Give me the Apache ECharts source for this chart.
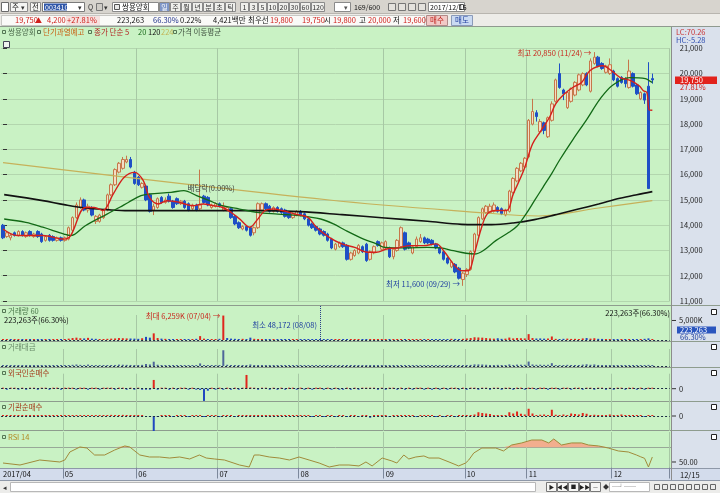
<!DOCTYPE html>
<html>
<head>
<meta charset="utf-8">
<script src="https://cdn.jsdelivr.net/npm/echarts@6/dist/echarts.min.js"></script>
<style>html,body{margin:0;padding:0;background:#fff;}#c{width:720px;height:493px;}</style>
</head>
<body>
<div id="c"></div>
<script>
// ---------------- DATA ----------------
const holidays = ['2017-05-01','2017-05-03','2017-05-05','2017-05-09','2017-06-06','2017-08-15',
  '2017-10-02','2017-10-03','2017-10-04','2017-10-05','2017-10-06','2017-10-09'];
const firstDay = [2017, 3, 7];
const lastDay = [2017, 11, 15];

const opens = [14000,13550,13500,13700,13600,13750,13550,13750,13550,13750,
 13650,13400,13600,13550,13400,13500,13400,13450,13800,14300,
 14700,15000,14600,14700,14150,14150,14300,14600,15200,15600,
 16100,16250,16500,16600,16100,15900,15500,15550,15200,14600,
 14700,15100,14900,15150,14950,15050,14850,14950,14850,14650,
 14800,14650,15150,15100,14700,14750,14850,14600,14600,14650,
 14350,14100,13850,13950,13900,13700,13900,14600,14850,14750,
 14550,14700,14650,14600,14500,14300,14400,14550,14450,14250,
 14050,13950,13850,13750,13650,13450,13050,13150,13300,13200,
 12650,12800,12900,13150,13250,12650,12900,13350,13050,13100,
 13100,12750,13000,13150,13700,13300,12900,13150,13350,13500,
 13450,13400,13250,13100,12950,12700,12350,12450,12300,11850,
 12050,12250,12950,13600,14250,14500,14500,14550,14700,14650,
 14400,14550,15300,15750,16150,16300,16700,18000,18450,17700,
 18050,17500,18150,18900,20000,19350,18650,18900,19150,19350,
 19550,20000,19300,20400,20650,20400,20050,20000,20100,19800,
 19850,19800,19450,20000,19550,19000,19200,19500,19800];
const closes = [13500,13700,13600,13600,13750,13600,13700,13600,13650,13550,
 13350,13550,13400,13400,13500,13400,13500,13900,14300,14800,
 15000,14600,14750,14400,14350,14400,14600,15200,15600,16200,
 16450,16600,16600,16300,15650,15600,15650,15000,14550,14750,
 15050,14900,15000,14950,14700,14850,14950,14700,14600,14800,
 14600,14800,14900,14800,14800,14850,14750,14750,14700,14300,
 14050,13900,13950,13800,13600,13900,14850,14850,14650,14550,
 14700,14550,14500,14350,14300,14450,14550,14400,14250,14000,
 13900,13800,13650,13600,13400,13100,13250,13300,13150,12650,
 12900,13000,13200,12950,12600,12950,13150,13200,13300,13350,
 12750,13050,13400,13900,13050,13100,13150,13450,13500,13300,
 13300,13250,13100,12900,12650,12500,12550,12150,11900,12100,
 12250,12950,13650,14300,14650,14750,14750,14800,14550,14450,
 14600,15350,15850,16250,16450,16650,18150,18500,18300,18100,
 17750,18250,18800,19750,19450,19200,19250,19400,19650,19950,
 20000,19550,20500,20650,20300,20200,20300,20350,19750,19500,
 19650,19600,20100,19500,19200,19250,18950,15450,19750];
const lows = [13450,13500,13400,13550,13550,13550,13500,13550,13500,13500,
 13300,13350,13350,13350,13350,13350,13350,13400,13750,14250,
 14650,14550,14500,14350,14050,14100,14250,14550,15150,15550,
 16050,16200,16450,16250,15600,15550,15450,14950,14500,14400,
 14650,14850,14850,14900,14650,14800,14800,14650,14550,14600,
 14550,14600,14850,14750,14650,14700,14700,14550,14550,14250,
 14000,13850,13800,13750,13550,13600,13850,14550,14600,14500,
 14500,14500,14450,14300,14250,14250,14350,14350,14200,13950,
 13850,13750,13600,13550,13350,13050,13000,13100,13100,12600,
 12600,12750,12850,12900,12550,12600,12850,13150,13000,13050,
 12700,12650,12950,13100,13000,13050,12850,13100,13300,13250,
 13250,13200,13050,12850,12600,12450,12300,12100,11850,11600,
 11950,12200,12900,13550,14200,14450,14450,14500,14500,14400,
 14350,14500,15250,15700,16100,16250,16650,17950,18100,17650,
 17600,17450,18100,18850,19400,18950,18600,18850,19100,19300,
 19500,19500,19250,20350,20250,20150,20000,19950,19700,19450,
 19600,19450,19400,19450,19150,18950,18800,15450,19600];
const highs = [14050,13750,13650,13750,13800,13800,13750,13800,13700,13800,
 13700,13600,13650,13600,13550,13550,13550,13950,14350,14900,
 15100,15050,14850,14750,14400,14450,14650,15250,15650,16250,
 16500,16700,16750,16700,16150,15950,15700,15600,15250,14850,
 15100,15150,15100,15250,15000,15100,15000,15000,14900,14850,
 14850,16200,15200,15150,14850,14900,14900,14900,14750,14700,
 14400,14150,14000,14000,13950,13950,14900,14900,14900,14800,
 14750,14750,14700,14650,14550,14500,14600,14600,14500,14300,
 14100,14000,13900,13800,13700,13500,13300,13350,13350,13250,
 12950,13050,13250,13200,13300,13000,13200,13400,13350,13400,
 13150,13100,13450,13950,13750,13350,13200,13550,13650,13550,
 13500,13450,13300,13150,13000,12750,12600,12500,12350,12150,
 12300,13000,13700,14350,14700,14800,14850,14900,14750,14700,
 14650,15400,15900,16300,16500,16700,18200,19000,18550,18200,
 18100,18300,18900,19800,20400,19400,19300,19450,19700,20000,
 20050,20050,20600,20850,20700,20450,20350,20600,20150,19850,
 19900,19850,20550,20050,19600,19300,19250,20450,20000];

const volumesK = [250,200,180,220,200,150,180,220,160,150,200,180,150,160,170,150,180,
 350,500,600,450,400,550,350,300,
 250,220,300,350,400,500,450,400,380,350,300,
 450,800,600,1700,500,350,
 300,250,220,200,250,200,220,250,300,1000,350,250,200,250,
 300,6259,500,350,300,250,300,250,600,300,
 250,220,200,200,180,200,220,200,180,200,150,160,150,
 140,130,120,48,130,150,160,140,150,160,140,150,
 140,130,150,160,140,130,150,160,140,150,130,140,150,160,
 150,140,130,150,160,170,180,200,
 220,200,250,300,280,260,300,400,500,
 700,650,600,500,400,350,450,300,350,
 620,400,500,450,400,1500,500,380,400,350,
 380,900,300,250,300,350,280,300,250,400,500,350,
 450,300,280,250,220,200,250,230,220,200,210,
 230,250,300,420,223];
const tradeValue = [34,27,24,30,27,20,24,30,22,20,27,24,20,21,23,20,24,
 48,70,86,66,60,83,52,44,
 36,31,43,52,61,80,74,66,62,57,48,
 68,118,88,253,75,52,
 45,37,33,30,37,30,33,38,45,150,52,38,30,37,
 44,926,72,49,42,35,41,35,89,44,
 36,32,29,29,27,29,32,29,26,29,21,23,21,
 19,18,16,6,17,20,21,18,20,20,18,20,
 18,17,20,21,18,17,20,21,18,20,17,19,20,21,
 20,18,17,20,21,22,23,25,
 28,25,31,36,33,31,35,49,65,
 95,92,88,74,59,51,66,43,51,
 92,62,81,77,72,261,90,70,76,68,
 73,167,57,48,58,68,55,58,49,80,101,72,
 92,61,57,51,44,40,49,46,43,39,41,
 44,48,57,65,44];
const foreignNet = [10,-8,5,12,-5,8,-10,6,10,-6,8,5,-8,6,10,-5,8,
 15,20,-10,12,25,-15,10,8,
 -10,12,15,20,-12,18,25,-20,15,-10,12,
 -15,-30,-40,350,-25,15,
 10,-12,15,-10,20,12,-15,10,-20,-50,-490,-80,15,-12,
 10,-40,20,-15,12,-10,15,550,50,20,
 -12,10,15,-10,12,-8,10,-15,12,8,-10,15,-12,
 10,-15,12,8,-30,10,-12,15,-10,-30,12,-10,
 15,-12,10,8,40,30,-15,12,-10,15,8,-12,10,-15,
 12,-10,15,8,-12,10,-15,12,
 -10,15,-12,10,8,-15,12,-10,15,
 20,-15,18,12,-20,15,10,-12,18,
 25,-20,15,30,-25,20,15,-18,25,20,
 -15,30,20,-25,15,12,-20,18,25,-15,20,12,
 -18,15,20,-12,18,-15,12,20,-10,15,12,
 -15,18,-20,25,15];
const instNet = [30,20,40,25,35,20,30,40,25,30,20,35,25,30,20,25,30,
 40,35,30,25,20,30,25,20,
 30,40,35,45,40,35,45,40,35,30,25,
 20,-15,-30,-600,-20,10,
 15,10,-10,20,15,10,-10,15,20,30,-20,10,15,10,
 -15,20,10,15,-20,10,15,20,25,30,
 30,25,35,30,25,20,30,25,20,15,20,25,15,
 10,-10,15,20,-15,10,12,-10,15,10,-12,10,
 15,-10,10,12,-70,20,25,15,20,-10,15,20,10,15,
 20,15,-10,15,20,10,15,-15,
 10,-15,12,10,-10,15,10,20,30,
 60,150,120,100,80,40,30,20,40,
 150,100,180,90,60,290,100,40,50,60,
 40,250,50,30,60,40,100,80,60,120,90,40,
 50,30,40,20,60,30,40,60,30,40,20,
 30,20,-20,40,20];

// moving averages / RSI as [bar index, value]
const ma5 = [[0,13850],[3.7,13590],[10.3,13590],[15.8,13450],[17.5,13590],[21.3,14700],[23.6,14700],[25.8,14580],[28.5,15230],[31.3,15890],[34.1,16090],[36.3,15760],[37.9,15100],[40.2,14840],[42.4,14970],[45.7,14900],[49,14770],[51.8,14840],[54.5,14770],[56.7,14710],[59,14510],[61.2,14250],[63.9,13920],[65.6,14180],[67.8,14580],[70,14640],[72.2,14580],[75.6,14440],[78.9,14310],[81.1,13920],[84.4,13520],[87.7,13260],[91,13120],[94.4,12930],[96.6,12930],[99.3,13060],[102.1,13100],[105.4,13190],[108.7,13190],[112.1,13260],[114.3,12930],[116.5,12470],[118.7,12200],[120.4,12200],[122,12900],[123.7,13850],[125.3,14450],[127.5,14580],[130.3,14580],[132,15230],[134.7,16160],[137,17210],[139.2,17740],[141.4,18270],[143,18800],[145.2,19190],[147.5,19460],[149.7,19650],[151.9,20120],[155.2,20310],[157.4,20120],[159.6,19850],[162.4,19720],[164.6,19520],[165.7,19320],[166.6,19250],[167.2,18560],[168,18550]];
const ma20 = [[0.3,14245],[5.9,14110],[10.3,13920],[15.8,13650],[17.5,13590],[21.3,13980],[26.9,14440],[30.2,14710],[32.4,14900],[35.7,15170],[37.9,15235],[43.5,15300],[46.8,15370],[50.1,15170],[53.4,14970],[56.7,14770],[61.2,14640],[65.6,14510],[71.1,14440],[76.7,14380],[82.2,14245],[85.5,14050],[88.8,13780],[93.3,13450],[96.6,13260],[98.8,13120],[104.3,13100],[109.8,13120],[113.2,13100],[116.5,12990],[119.8,12890],[122,12860],[124.2,12990],[127.5,13390],[130.9,13720],[133.1,13980],[135.3,14440],[137.5,14970],[139.7,15500],[142,16050],[144.1,16600],[147.5,17400],[151.1,18200],[154.5,19000],[157.8,19550],[162.2,19840],[166.2,19800],[167.5,19690],[168,19650]];
const ma120 = [[0.3,15208],[10.3,14971],[15.8,14813],[21.3,14681],[26.9,14615],[32.4,14575],[43.5,14575],[54.5,14575],[65.6,14575],[76.7,14536],[87.7,14417],[98.8,14285],[109.8,14153],[118.7,14034],[126.4,14021],[132,14087],[137.5,14219],[143,14417],[148.6,14628],[154.1,14839],[159.6,15063],[164,15208],[168,15327]];
const ma224 = [[0,16474],[84.4,14997],[124.9,14483],[138.6,14364],[154.1,14681],[168,14971]];
const rsi14 = [[0,48.6],[4.4,45.9],[9.5,52.7],[14.7,50],[16,52.7],[17.3,63.6],[19.9,70.4],[21.7,69],[23.7,59.5],[26.3,59.5],[28.9,66.3],[31.5,71.8],[32.8,70.4],[35.4,59.5],[37.9,56.8],[40.5,56.8],[43.1,55.4],[45.7,56.8],[48.3,54.1],[50.8,59.5],[52.6,55.4],[54.7,54.1],[57.3,52.7],[61.2,45.9],[63.7,43.2],[65,59.5],[66.3,59.5],[68.9,56.8],[71.5,55.4],[74.1,52.7],[76.6,56.8],[79.2,52.7],[81.8,48.6],[84.4,43.2],[87,45.9],[89.5,45.9],[92.1,44.6],[93.9,50],[95.5,44.6],[98.1,55.4],[100.6,51.4],[101.9,48.6],[103.7,59.5],[105,54.1],[106.8,56.8],[108.9,58.2],[110.2,55.4],[112.8,55.4],[115.4,50],[117.9,44.6],[119.7,48.6],[120.5,52.7],[121.8,62.2],[123.9,69],[127.5,69],[129.5,65],[131.6,73.1],[134.2,75.9],[136.8,79.9],[139.4,79.9],[141.2,75.9],[142.5,81.3],[144.5,73.1],[147.1,75.9],[149.7,75.9],[151.5,73.1],[154.1,71.8],[156.6,69],[159.2,65],[161.8,63.6],[163.9,59.5],[165,57],[166,55],[167,43.2],[168,56.8]];

const priceMin = 11000, priceMax = 21000, priceStep = 1000;
const rsiLevel = 70;

// ---------------- BUILD ----------------
const FONT = '"Noto Sans CJK KR","Noto Sans",sans-serif';
const dates = [];
(function(){
  const d = new Date(Date.UTC(firstDay[0], firstDay[1], firstDay[2]));
  const end = Date.UTC(lastDay[0], lastDay[1], lastDay[2]);
  while (d.getTime() <= end) {
    const wd = d.getUTCDay(); const s = d.toISOString().slice(0,10);
    if (wd !== 0 && wd !== 6 && holidays.indexOf(s) < 0) dates.push(s);
    d.setUTCDate(d.getUTCDate() + 1);
  }
})();
const cats = dates.concat(['p1','p2','p3','p4']);
const NB = cats.length;
const BW = 3.865, GL = 1.07, GW = NB * BW, GR = 720 - GL - GW;
const monthStart = i => i > 0 && i < dates.length && dates[i].slice(5,7) !== dates[i-1].slice(5,7);

const grids = [
  {top:48.3, height:252.7},
  {top:315, height:25},
  {top:349, height:17},
  {top:373.7, height:30},
  {top:401, height:30},
  {top:432, height:35.5}
].map(g => Object.assign({left:GL, right:GR, containLabel:false}, g));

const xAxes = [];
for (let g = 0; g < 6; g++) {
  xAxes.push({
    type:'category', gridIndex:g, data:cats, boundaryGap:true,
    axisLine:{show:false},
    axisTick:{show:g===5, interval:(i)=>monthStart(i), length:11, lineStyle:{color:'#7C889C'}},
    axisLabel:{show:g===5, interval:(i)=>i===0||monthStart(i), align:'left', margin:3,
      fontSize:7.5, color:'#111', fontFamily:FONT,
      formatter:(v,i)=> i===0 ? '2017/04' : v.slice(5,7)},
    splitLine:{show:true, interval:(i)=>monthStart(i), lineStyle:{color:'#A7C8A5', width:1}}
  });
}
xAxes.push({type:'value', gridIndex:0, min:-0.5, max:NB-0.5, show:false});
xAxes.push({type:'value', gridIndex:5, min:-0.5, max:NB-0.5, show:false});

const hiddenY = (g, min, max) => ({type:'value', gridIndex:g, min, max, show:false, splitLine:{show:false}});
const yAxes = [
  {type:'value', gridIndex:0, position:'right', offset:2, min:priceMin, max:priceMax, interval:priceStep,
   axisLine:{show:false}, axisTick:{show:true, length:4, lineStyle:{color:'#333'}},
   axisLabel:{fontSize:7.5, color:'#222', margin:8, fontFamily:FONT, formatter:v=>v.toLocaleString('en-US')},
   splitLine:{show:true, lineStyle:{color:'#B3D6AE', width:1}}},
  hiddenY(1, 0, 6400),
  hiddenY(2, 0, 1000),
  hiddenY(3, -600, 600),
  hiddenY(4, -600, 600),
  hiddenY(5, 42.5, 90.8)
];

const candles = dates.map((_, i) => [opens[i], closes[i], lows[i], highs[i]]);
const upColor = '#E0261C', downColor = '#1F48C0';
const volData = volumesK.map((v, i) => ({value:v, itemStyle:{color: (i===0 || closes[i] >= closes[i-1]) ? upColor : downColor}}));
const sgnData = arr => arr.map(v => ({value:v, itemStyle:{color: v >= 0 ? upColor : downColor}}));
const zeroLine = {silent:true, symbol:'none', label:{show:false}, lineStyle:{color:'#1B2B44', type:[2,2], width:1}, data:[{yAxis:0}]};

const lineS = (data, color, w) => ({type:'line', xAxisIndex:6, yAxisIndex:0, data, showSymbol:false, smooth:0.35,
  lineStyle:{color, width:w}, z:3, silent:true});

const option = {
  animation:false,
  backgroundColor:'#C9F2C4',
  textStyle:{fontFamily:FONT},
  grid: grids,
  xAxis: xAxes,
  yAxis: yAxes,
  series: [
    lineS(ma224, '#C6B15A', 1.2),
    lineS(ma120, '#111111', 1.6),
    {type:'candlestick', xAxisIndex:0, yAxisIndex:0, data:candles, barWidth:3,
     itemStyle:{color:'#F3DEC6', color0:'#1E4FC6', borderColor:'#C6774A', borderColor0:'#1E4FC6', borderWidth:1}},
    lineS(ma20, '#126A16', 1.3),
    lineS(ma5, '#D4201C', 1.4),
    {type:'bar', xAxisIndex:1, yAxisIndex:1, data:volData, barWidth:2, barMinHeight:1, markLine:zeroLine},
    {type:'bar', xAxisIndex:2, yAxisIndex:2, data:tradeValue, barWidth:2, barMinHeight:1, itemStyle:{color:'#4E6699'}, markLine:zeroLine},
    {type:'bar', xAxisIndex:3, yAxisIndex:3, data:sgnData(foreignNet), barWidth:2, barMinHeight:1, markLine:zeroLine},
    {type:'bar', xAxisIndex:4, yAxisIndex:4, data:sgnData(instNet), barWidth:2, barMinHeight:1, markLine:zeroLine},
    {type:'line', xAxisIndex:7, yAxisIndex:5, data:rsi14.map(p => [p[0], Math.max(p[1], rsiLevel)]), showSymbol:false,
     lineStyle:{width:0, opacity:0}, areaStyle:{color:'#F2AE8E', origin:rsiLevel, opacity:1}, silent:true, z:1},
    {type:'line', xAxisIndex:7, yAxisIndex:5, data:rsi14, showSymbol:false, lineStyle:{color:'#A08A3A', width:1}, silent:true, z:3}
  ]
};

const chart = echarts.init(document.getElementById('c'), null, {width:720, height:493});
chart.setOption(option);

// ---------------- DECORATIONS ----------------
const X = i => chart.convertToPixel({xAxisIndex:6}, i);
const Y = (ax, v) => chart.convertToPixel({yAxisIndex:ax}, v);
function txt(x, y, s, fill, o) {
  o = o || {};
  return {type:'text', z:60, silent:true, x:x, y:y,
    style:{text:s, fill:fill || '#000', fontSize:o.size || 7.5, fontFamily:FONT, fontWeight:o.w || 'normal',
      align:o.align || 'left', verticalAlign:'middle', textAlign:o.align || 'left', textVerticalAlign:'middle'}};
}
function rect(x, y, w, h, fill, stroke, z) {
  return {type:'rect', z:(z == null ? -50 : z), silent:true, shape:{x:x, y:y, width:w, height:h},
    style:{fill:fill || 'none', stroke:stroke || null, lineWidth:1}};
}
function ln(x1, y1, x2, y2, stroke, dash, z) {
  return {type:'line', z:(z == null ? -40 : z), silent:true, shape:{x1:x1, y1:y1, x2:x2, y2:y2},
    style:{stroke:stroke, lineWidth:1, lineDash:dash || null}};
}
const E = [];
// toolbar rows
E.push(rect(0, 0, 720, 14, '#D7D4CE'));
E.push(rect(0, 14, 720, 13, '#EDECE8'));
E.push(ln(0, 13.5, 720, 13.5, '#B8B5AF'));
E.push(ln(0, 26.5, 720, 26.5, '#8F9A8F'));
E.push(rect(1.5, 2.5, 7, 9, '#FFFFFF', '#6A6A6A', -45));
E.push(rect(10.5, 2.5, 17, 9, '#F5F5F3', '#8A8A8A', -45));
E.push(txt(12, 7, '주', '#222')); E.push(txt(21, 7, '▾', '#333', {size:7}));
E.push(rect(30.5, 2.5, 10, 9, '#F5F5F3', '#8A8A8A', -45));
E.push(txt(32, 7, '전', '#222'));
E.push(rect(42.5, 2.5, 42, 9, '#FFFFFF', '#7A7A7A', -45));
E.push(rect(44, 3.5, 23, 7, '#2F56A8', null, -44));
E.push(txt(45, 7, '003410', '#FFFFFF', {size:7}));
E.push(txt(78, 7, '▾', '#333', {size:7}));
E.push(txt(88, 7, 'Q', '#333', {size:7}));
E.push(rect(96.5, 3.5, 6, 7, '#CFCCC6', '#777', -45));
E.push(txt(104, 7, '▾', '#333', {size:7}));
E.push(rect(112.5, 2.5, 46, 9, '#FFFFFF', '#8A8A8A', -45));
E.push(rect(114.5, 4.5, 5, 5, '#E8E8E8', '#555', -44));
E.push(txt(122, 7, '쌍용양회', '#111'));
const periodBtns = ['일','주','월','년','분','초','틱'];
periodBtns.forEach((s, k) => {
  const x0 = 159.5 + k * 11;
  E.push(rect(x0, 2.5, 10, 9, k === 0 ? '#7E96C8' : '#EFEFEC', '#8A8A8A', -45));
  E.push(txt(x0 + 5, 7, s, k === 0 ? '#FFFFFF' : '#333', {align:'center', size:7}));
});
const minuteBtns = ['1','3','5','10','20','30','60','120'];
let bx = 240.5;
minuteBtns.forEach(s => {
  const w = s.length === 1 ? 8 : (s.length === 2 ? 10 : 13);
  E.push(rect(bx, 2.5, w, 9, '#EFEFEC', '#8A8A8A', -45));
  E.push(txt(bx + w / 2, 7, s, '#333', {align:'center', size:7}));
  bx += w + 1;
});
E.push(rect(334.5, 2.5, 16, 9, '#FFFFFF', '#8A8A8A', -45));
E.push(txt(344, 7, '▾', '#555', {size:7}));
E.push(txt(354, 7, '169/600', '#111', {size:7}));
[388, 398, 408, 418].forEach(x0 => E.push(rect(x0 + 0.5, 3.5, 7, 7, '#E4E2DD', '#777', -45)));
E.push(rect(428.5, 2.5, 36, 9, '#FFFFFF', '#8A8A8A', -45));
E.push(txt(430, 7, '2017/12/15', '#111', {size:7}));
E.push(rect(459.5, 4.5, 4, 5, '#FFFFFF', '#555', -44));
// price info row
E.push(rect(1.5, 15.5, 423, 10, '#FAFAF8', '#C8C8C4', -45));
E.push(txt(15, 20.5, '19,750', '#D0201C'));
E.push(txt(35, 20.5, '▲', '#D0201C', {size:7}));
E.push(txt(47, 20.5, '4,200', '#D0201C'));
E.push(rect(66, 16, 34, 9, '#F6E2E0', null, -44));
E.push(txt(67, 20.5, '+27.81%', '#D0201C'));
E.push(txt(117, 20.5, '223,263', '#111'));
E.push(txt(153, 20.5, '66.30%', '#1D2F8A'));
E.push(txt(180, 20.5, '0.22%', '#111'));
E.push(txt(213, 20.5, '4,421백만', '#111'));
E.push(txt(248, 20.5, '최우선', '#111'));
E.push(txt(270, 20.5, '19,800', '#D0201C'));
E.push(txt(302, 20.5, '19,750', '#D0201C'));
E.push(txt(324, 20.5, '시', '#111'));
E.push(txt(333, 20.5, '19,800', '#D0201C'));
E.push(txt(359, 20.5, '고', '#111'));
E.push(txt(368, 20.5, '20,000', '#D0201C'));
E.push(txt(393, 20.5, '저', '#111'));
E.push(txt(403, 20.5, '19,600', '#D0201C'));
E.push(rect(426.5, 15.5, 21, 10, '#F2C9C6', '#B08A88', -45));
E.push(txt(437, 20.5, '매수', '#C0241E', {align:'center'}));
E.push(rect(451.5, 15.5, 21, 10, '#CADAF2', '#8A9AB8', -45));
E.push(txt(462, 20.5, '매도', '#2443A0', {align:'center'}));

// right axis column, x band, bottom toolbar
E.push(rect(672, 27, 48, 443, '#DAE1EC'));
E.push(ln(671.5, 27, 671.5, 480, '#8C8C8C', null, 5));
E.push(rect(0, 469, 720, 11, '#D3DCEC'));
E.push(ln(0, 468.5, 720, 468.5, '#8E98A8'));
E.push(ln(0, 480.5, 720, 480.5, '#8E98A8'));
E.push(rect(0, 481, 720, 12, '#ECECEA'));
E.push(rect(10.5, 482.5, 525, 9, '#FFFFFF', '#B8B8B8', -45));
E.push(txt(3, 487, '◂', '#333', {size:7}));
['▶','◀◀','■','▶▶','—'].forEach((s, k) => {
  const x0 = 546.5 + k * 11;
  E.push(rect(x0, 482.5, 10, 9, '#F6F6F4', '#777', -45));
  E.push(txt(x0 + 5, 487, s, '#222', {align:'center', size:5.5}));
});
E.push(txt(603, 487, '◆', '#333', {size:6}));
E.push(rect(609.5, 482.5, 40, 9, '#FFFFFF', '#B8B8B8', -45));
E.push(txt(612, 487, '─┘──', '#333', {size:6}));
[654, 662, 670, 678, 686, 694, 702, 710].forEach(x0 => E.push(rect(x0 + 0.5, 484.5, 5, 5, 'none', '#666', -44)));

// panel separators
[305.5, 341.5, 367.5, 401.5, 430.5].forEach(y => E.push(ln(0, y, 720, y, '#8E9C8E')));
E.push(ln(0, Math.round(Y(5, rsiLevel)) + 0.5, 671, Math.round(Y(5, rsiLevel)) + 0.5, '#98A898'));
// right column small boxes
[309, 344, 370, 404, 434].forEach(y => E.push(rect(711.5, y + 0.5, 5, 5, '#FFFFFF', '#222', 55)));

// legend row
E.push(rect(2.5, 30.5, 3, 3, 'none', '#557755', 55));
E.push(txt(8, 32.5, '쌍용양회', '#4C6A4C'));
E.push(rect(37.5, 30.5, 3, 3, 'none', '#557755', 55));
E.push(txt(43, 32.5, '단기과열예고', '#C85E10'));
E.push(rect(88.5, 30.5, 3, 3, 'none', '#557755', 55));
E.push(txt(94, 32.5, '종가 단순 5', '#B22222'));
E.push(txt(138, 32.5, '20', '#1B6B1B'));
E.push(txt(148, 32.5, '120', '#111'));
E.push(txt(161, 32.5, '224', '#C2B455'));
E.push(rect(173.5, 30.5, 3, 3, 'none', '#557755', 55));
E.push(txt(178, 32.5, '가격 이동평균', '#3C4C3C'));
E.push(rect(3.5, 41.5, 6, 6, '#EEF2EE', '#445', 55));

// right column header texts and price marker
E.push(txt(676, 32, 'LC:70.26', '#C83232'));
E.push(txt(676, 40.5, 'HC:-5.28', '#2F4FB0'));
const lastClose = closes[closes.length - 1];
const yLast = Y(0, lastClose);
E.push(rect(675, yLast - 3.5, 42, 7.5, '#E2221C', null, 58));
E.push(txt(680, yLast + 0.3, lastClose.toLocaleString('en-US'), '#FFFFFF', {size:7.5}));
E.push(txt(680, yLast + 7.5, '27.81%', '#D0201C'));

// annotations in price panel
const iHigh = dates.indexOf('2017-11-24'), iLow = dates.indexOf('2017-09-29');
E.push(txt(X(iHigh) - 3, Y(0, 20850) + 1.5, '최고 20,850 (11/24) →', '#C8281E', {align:'right'}));
E.push(txt(X(iLow) - 3, Y(0, 11600) - 1.5, '최저 11,600 (09/29) →', '#2040A0', {align:'right'}));
E.push(txt(X(48) - 1, Y(0, 15450), '배당락(0.00%)', '#3A3A3A'));

// volume panel
const iMax = dates.indexOf('2017-07-04'), iMin = dates.indexOf('2017-08-08');
E.push(rect(2.5, 309.5, 3, 3, 'none', '#557755', 55));
E.push(txt(8, 311, '거래량 60', '#4C7A4C'));
E.push(txt(4, 320, '223,263주(66.30%)', '#111'));
E.push(txt(X(iMax) - 3, 316.5, '최대 6,259K (07/04) →', '#C8281E', {align:'right'}));
E.push(txt(X(iMin) - 3, 325, '최소 48,172 (08/08)', '#2040A0', {align:'right'}));
E.push(ln(Math.round(X(iMin)) + 0.5, 306, Math.round(X(iMin)) + 0.5, 341, '#2A3F8A', [1, 1], 5));
E.push(txt(670, 313, '223,263주(66.30%)', '#111', {align:'right'}));
const y5000 = Y(1, 5000);
E.push(ln(672, y5000, 676, y5000, '#333', null, 55));
E.push(txt(679, y5000, '5,000K', '#222'));
E.push(rect(677, 326.5, 39, 7, '#2A55BE', null, 58));
E.push(txt(680, 330, '223,263', '#FFFFFF'));
E.push(txt(680, 337, '66.30%', '#2040A0'));

// other panel labels
E.push(rect(2.5, 345.5, 3, 3, 'none', '#557755', 55));
E.push(txt(8, 347, '거래대금', '#6A8C6A'));
E.push(rect(2.5, 371.5, 3, 3, 'none', '#557755', 55));
E.push(txt(8, 373, '외국인순매수', '#A43C1C'));
E.push(rect(2.5, 405.5, 3, 3, 'none', '#557755', 55));
E.push(txt(8, 407, '기관순매수', '#A43C1C'));
E.push(rect(2.5, 435.5, 3, 3, 'none', '#557755', 55));
E.push(txt(8, 437, 'RSI 14', '#B28A24'));
[[3, 0, '0'], [4, 0, '0'], [5, 50, '50.00']].forEach(a => {
  const yy = Y(a[0], a[1]);
  E.push(ln(672, yy, 676, yy, '#333', null, 55));
  E.push(txt(679, yy, a[2], '#222'));
});
E.push(txt(680, 475, '12/15', '#111'));

chart.setOption({graphic:{elements:E}});
</script>
</body>
</html>
